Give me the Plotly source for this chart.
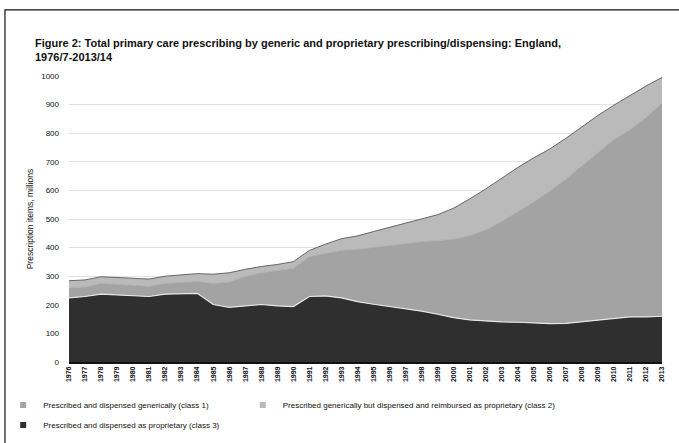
import plotly.graph_objects as go

years = list(range(1976, 2014))

# Prescription items, millions
class3 = [224, 229, 237, 235, 232, 229, 237, 239, 240, 201, 191, 196, 201, 196, 194,
          229, 231, 224, 211, 202, 194, 187, 178, 167, 155, 147, 143, 140, 139, 137,
          134, 135, 141, 148, 154, 158, 158, 160]
class1 = [36, 33, 38, 37, 38, 36, 38, 39, 42, 74, 89, 104, 112, 124, 134,
          140, 150, 167, 183, 199, 215, 229, 243, 258, 274, 295, 319, 352, 386, 423,
          464, 505, 545, 585, 624, 654, 697, 746]
class2 = [24, 25, 23, 23, 23, 25, 25, 27, 27, 32, 32, 24, 21, 21, 23,
          21, 31, 40, 47, 55, 62, 69, 78, 90, 109, 128, 143, 151, 155, 154,
          147, 142, 136, 129, 120, 120, 110, 89]

names = {
    "c1": "Prescribed and dispensed generically (class 1)",
    "c2": "Prescribed generically but dispensed and reimbursed as proprietary (class 2)",
    "c3": "Prescribed and dispensed as proprietary (class 3)",
}
col1, col2, col3 = "#a3a3a3", "#bababa", "#2f2f2f"

fig = go.Figure()
fig.add_trace(go.Scatter(x=years, y=class3, stackgroup="s", mode="lines",
                         line=dict(color="#e6e6e6", width=1.2), fillcolor=col3,
                         showlegend=False, hoverinfo="skip"))
fig.add_trace(go.Scatter(x=years, y=class1, stackgroup="s", mode="lines",
                         line=dict(color="#b0b0b0", width=1), fillcolor=col1,
                         showlegend=False, hoverinfo="skip"))
fig.add_trace(go.Scatter(x=years, y=class2, stackgroup="s", mode="lines",
                         line=dict(color="#666666", width=1), fillcolor=col2,
                         showlegend=False, hoverinfo="skip"))

# legend entries with small square markers, one legend each for exact placement
for key, c, lg in (("c1", col1, "legend"), ("c2", col2, "legend2"), ("c3", col3, "legend3")):
    fig.add_trace(go.Scatter(x=[None], y=[None], mode="markers", name=names[key],
                             legend=lg, marker=dict(symbol="square", size=6, color=c)))

legfont = dict(size=8, family="Liberation Sans", color="#111")
common = dict(orientation="h", xanchor="left", yanchor="top", font=legfont,
              itemwidth=30, bgcolor="rgba(0,0,0,0)")

fig.update_layout(
    width=679, height=443,
    margin=dict(l=69, r=17, t=76, b=81, autoexpand=False),
    paper_bgcolor="white", plot_bgcolor="white",
    font=dict(family="Liberation Sans", color="#111"),
    xaxis=dict(range=[1976, 2013], tickmode="array", tickvals=years,
               ticktext=["<b>%d</b>" % y for y in years], tickangle=-90,
               tickfont=dict(size=7, family="Liberation Sans", color="#111"),
               showgrid=False, showline=True, linecolor="#111", linewidth=1.5,
               ticks="", zeroline=False, automargin=False),
    yaxis=dict(range=[0, 1000], dtick=100,
               tickfont=dict(size=8, family="Liberation Sans", color="#111"),
               ticklabelstandoff=9,
               showgrid=True, gridcolor="#e0e0e0", gridwidth=1, zeroline=False,
               showline=False, ticks="", automargin=False,
               title=dict(text="Prescription items, millions", standoff=6,
                          font=dict(size=8.5, family="Liberation Sans", color="#111"))),
    legend=dict(x=-0.111, y=-0.0997, **common),
    legend2=dict(x=0.293, y=-0.0997, **common),
    legend3=dict(x=-0.111, y=-0.1696, **common),
    annotations=[dict(
        text="<b>Figure 2: Total primary care prescribing by generic and proprietary prescribing/dispensing: England,<br>1976/7-2013/14</b>",
        xref="paper", yref="paper", x=-0.0607, y=1.143, xanchor="left", yanchor="top",
        align="left", showarrow=False, font=dict(size=11, family="Liberation Sans", color="#111"))],
    shapes=[dict(type="rect", xref="paper", yref="paper", x0=-0.108, x1=1.2,
                 y0=-0.6, y1=1.231, line=dict(color="#111", width=1.2))],
)

fig.write_html("out.html", config={"displayModeBar": False},
               post_script="document.body.style.margin='0';document.body.style.overflow='hidden';")
